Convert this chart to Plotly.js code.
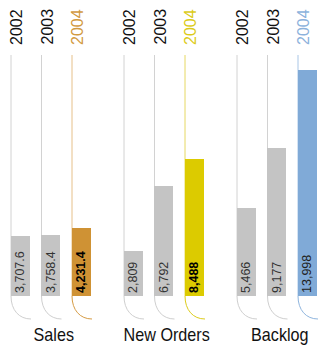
<!DOCTYPE html>
<html>
<head>
<meta charset="utf-8">
<script src="https://cdn.plot.ly/plotly-3.0.1.min.js"></script>
<style>
html,body{margin:0;padding:0;background:#fff;}
#chart{width:320px;height:345px;}
</style>
</head>
<body>
<div id="chart"></div>
<script>
// ---- data ----
const groups = ['Sales', 'New Orders', 'Backlog'];
const years = ['2002', '2003', '2004'];
const sales = [3707.6, 3758.4, 4231.4];
const newOrders = [2809, 6792, 8488];
const backlog = [5466, 9177, 13998];
const seriesValues = [sales, newOrders, backlog];
const valueFormats = [',.1f', ',', ','];

// ---- styles / layout constants ----
const W = 320, H = 345;
const BASE_PX = 296;          // pixel row of value 0
const UNITS_PER_PX = 62;
const X0 = 10.5, GROUP_STEP = 113, BAR_STEP = 30.5, BAR_W = 19;
const LINE_TOP_PX = 55;
const GREY = '#c4c4c4';
const accent = ['#cf9234', '#dccb00', '#80aad7'];
const accentLine = ['#e6c089', '#e6d862', '#a9c6e6'];
const accentCurve = ['#d69c45', '#ddcc1c', '#8fb5de'];
const accentText = ['#d29a3f', '#dccb1a', '#8cb2dc'];
const valueTextColor = [['#333', '#333', '#000'], ['#333', '#333', '#000'], ['#333', '#333', '#222']];
const boldLast = [true, true, false];
const NARROW = 0.85;

const paperY = p => 1 - p / H;

const traces = [];
const shapes = [];
const annotations = [];

groups.forEach((g, gi) => {
  const lefts = years.map((y, i) => X0 + gi * GROUP_STEP + i * BAR_STEP);
  traces.push({
    type: 'bar',
    x: lefts.map(l => l + BAR_W / 2),
    y: seriesValues[gi],
    width: BAR_W,
    marker: { color: years.map((y, i) => i === 2 ? accent[gi] : GREY), line: { width: 0 } },
    texttemplate: years.map((y, i) => (i === 2 && boldLast[gi]) ? '<b>%{y:' + valueFormats[gi] + '}</b>' : '%{y:' + valueFormats[gi] + '}'),
    textposition: 'inside',
    insidetextanchor: 'start',
    textangle: -90,
    constraintext: 'none',
    textfont: { family: 'Liberation Sans, Arial', size: 12.5, color: valueTextColor[gi] },
    hoverinfo: 'skip',
    cliponaxis: false
  });
  lefts.forEach((l, i) => {
    const isLast = i === 2;
    const lx = l + 0.5;
    shapes.push({
      type: 'line', xref: 'x', yref: 'paper', layer: 'below',
      x0: lx, x1: lx, y0: paperY(LINE_TOP_PX), y1: paperY(BASE_PX),
      line: { color: isLast ? accentLine[gi] : '#d2d2d2', width: 1 }
    });
    const path = 'M ' + lx + ',' + paperY(BASE_PX) +
      ' C ' + lx + ',' + paperY(BASE_PX + 14) + ' ' + (lx + 8) + ',' + paperY(BASE_PX + 23) + ' ' + (lx + 20) + ',' + paperY(BASE_PX + 23);
    shapes.push({
      type: 'path', xref: 'x', yref: 'paper', layer: 'below', path: path,
      line: { color: isLast ? accentCurve[gi] : '#cfcfcf', width: 1 }
    });
    annotations.push({
      text: years[i], xref: 'x', yref: 'paper', x: l + 5.5, y: paperY(47),
      xanchor: 'center', yanchor: 'bottom', textangle: -90, showarrow: false,
      font: { family: 'Liberation Sans, Arial', size: 16, color: isLast ? accentText[gi] : '#111' }
    });
  });
  annotations.push({
    text: g, xref: 'x', yref: 'paper', name: 'group',
    x: lefts[0] + (2 * BAR_STEP + BAR_W) / 2 + 3, y: paperY(334),
    xanchor: 'center', yanchor: 'middle', showarrow: false,
    font: { family: 'Liberation Sans, Arial', size: 19, color: '#111' }
  });
});

const layout = {
  width: W, height: H, autosize: false,
  margin: { l: 0, r: 0, t: 0, b: 0, pad: 0 },
  paper_bgcolor: '#fff', plot_bgcolor: '#fff',
  showlegend: false, hovermode: false,
  xaxis: { range: [0, W], visible: false, fixedrange: true },
  yaxis: { range: [-(H - BASE_PX) * UNITS_PER_PX, BASE_PX * UNITS_PER_PX], visible: false, fixedrange: true },
  shapes: shapes,
  annotations: annotations,
  bargap: 0
};

Plotly.newPlot('chart', traces, layout, { displayModeBar: false, staticPlot: true }).then(() => {
  // condense the group labels (narrow typeface look)
  document.querySelectorAll('.annotation-text').forEach(el => {
    if (groups.indexOf(el.textContent) >= 0) {
      const w = el.getComputedTextLength();
      el.setAttribute('textLength', (w * NARROW).toFixed(1));
      el.setAttribute('lengthAdjust', 'spacingAndGlyphs');
    }
  });
});
</script>
</body>
</html>
